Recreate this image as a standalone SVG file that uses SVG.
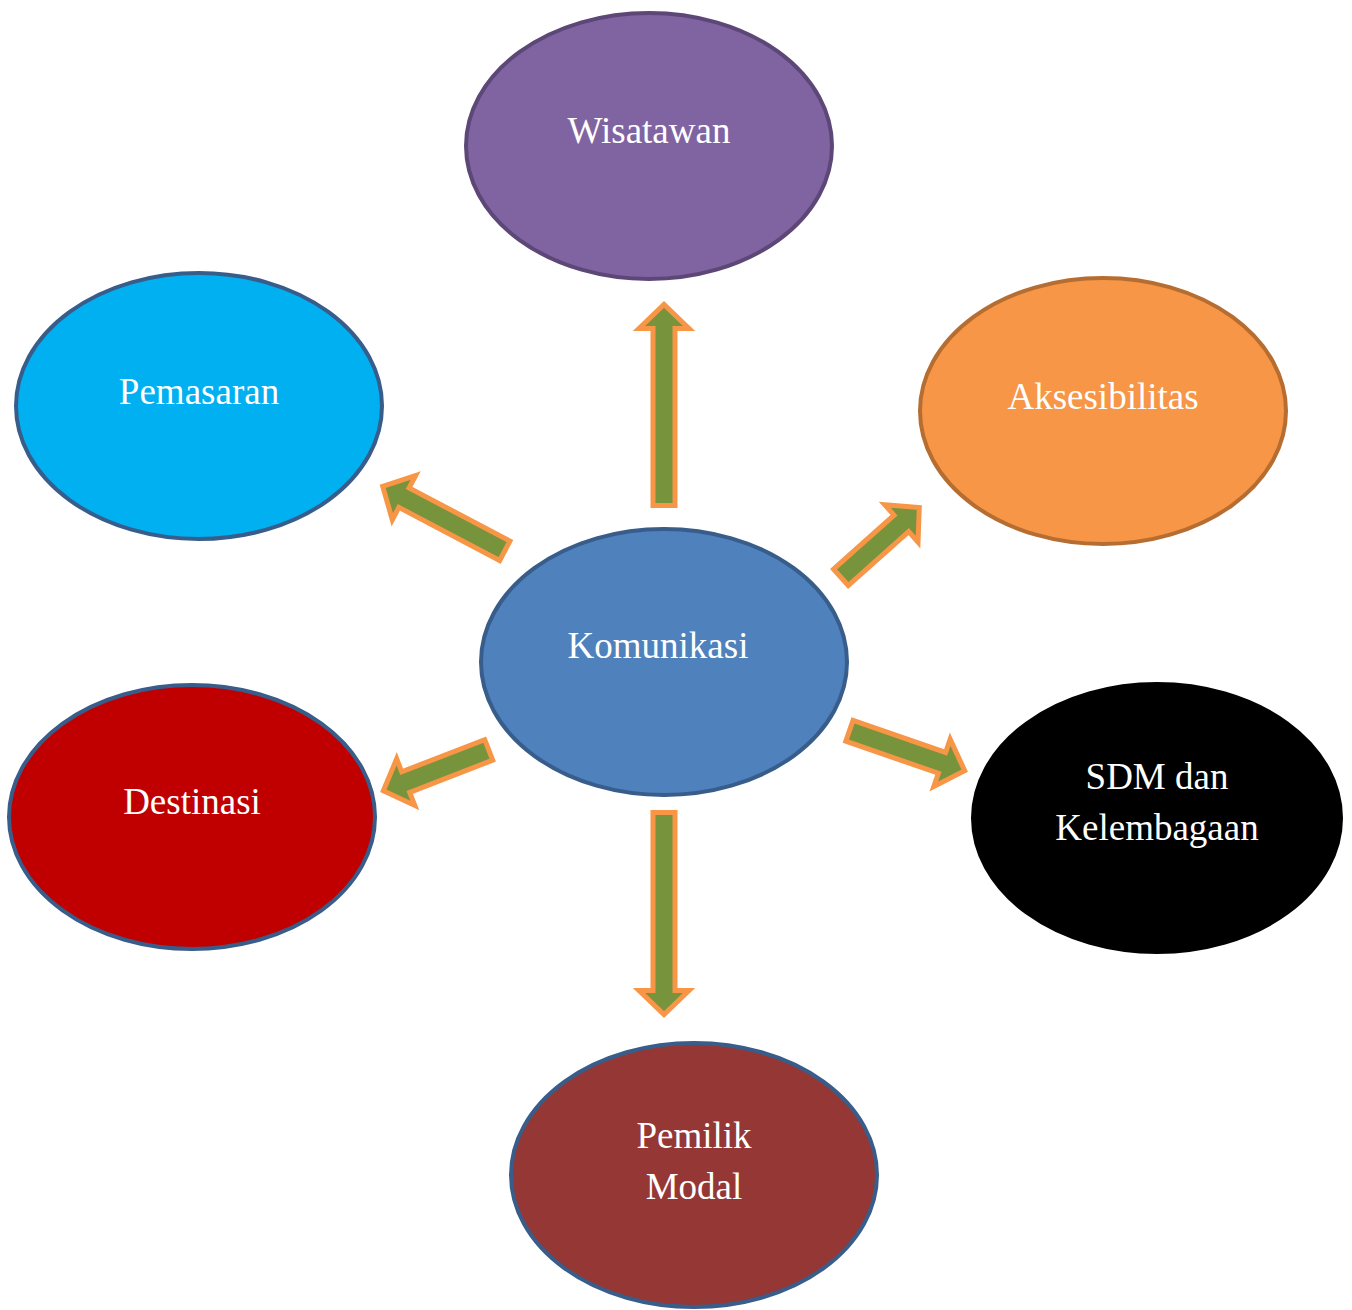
<svg xmlns="http://www.w3.org/2000/svg" width="1352" height="1310" viewBox="0 0 1352 1310">
<style>
.node ellipse{stroke-width:4}
.lbl{font-family:"Liberation Serif","Times New Roman",serif;font-size:37px;fill:#ffffff;text-anchor:middle}
.arr{fill:#77933C;stroke:#F79646;stroke-width:5;stroke-linejoin:miter;stroke-miterlimit:10}
</style>
<rect width="1352" height="1310" fill="#ffffff"/>
<g id="connectors">
<polygon class="arr" transform="translate(664,505.5) rotate(-90)" points="0,-11 177,-11 177,-25 201,0 177,25 177,11 0,11"/>
<polygon class="arr" transform="translate(664,812.5) rotate(90)" points="0,-11 178,-11 178,-25 202,0 178,25 178,11 0,11"/>
<polygon class="arr" transform="translate(504.8,550.8) rotate(207.8)" points="0,-11 114,-11 114,-25 138,0 114,25 114,11 0,11"/>
<polygon class="arr" transform="translate(840.9,577.3) rotate(-41.7)" points="0,-11 81,-11 81,-25 105,0 81,25 81,11 0,11"/>
<polygon class="arr" transform="translate(488.7,749.9) rotate(158.8)" points="0,-11 89,-11 89,-25 113,0 89,25 89,11 0,11"/>
<polygon class="arr" transform="translate(849.4,730.8) rotate(19.1)" points="0,-11 98,-11 98,-25 122,0 98,25 98,11 0,11"/>
</g>
<g id="wisatawan" class="node">
<ellipse cx="649" cy="146" rx="183" ry="133" fill="#8064A2" stroke="#5C4776"/>
<text class="lbl" x="649" y="143">Wisatawan</text>
</g>
<g id="pemasaran" class="node">
<ellipse cx="199" cy="406" rx="183" ry="133" fill="#00B0F0" stroke="#385D8A"/>
<text class="lbl" x="199" y="404">Pemasaran</text>
</g>
<g id="aksesibilitas" class="node">
<ellipse cx="1103" cy="411" rx="183" ry="133" fill="#F79646" stroke="#B66D31"/>
<text class="lbl" x="1103" y="409">Aksesibilitas</text>
</g>
<g id="komunikasi" class="node">
<ellipse cx="664" cy="662" rx="183" ry="133" fill="#4F81BD" stroke="#385D8A"/>
<text class="lbl" x="658" y="658">Komunikasi</text>
</g>
<g id="destinasi" class="node">
<ellipse cx="192" cy="817" rx="183" ry="132" fill="#C00000" stroke="#385D8A"/>
<text class="lbl" x="192" y="814">Destinasi</text>
</g>
<g id="sdm" class="node">
<ellipse cx="1157" cy="818" rx="184" ry="134" fill="#000000" stroke="#000000"/>
<text class="lbl" x="1157" y="789">SDM dan</text>
<text class="lbl" x="1157" y="840">Kelembagaan</text>
</g>
<g id="pemilik" class="node">
<ellipse cx="694" cy="1175" rx="183" ry="132" fill="#953735" stroke="#385D8A"/>
<text class="lbl" x="694" y="1148">Pemilik</text>
<text class="lbl" x="694" y="1199">Modal</text>
</g>
</svg>
